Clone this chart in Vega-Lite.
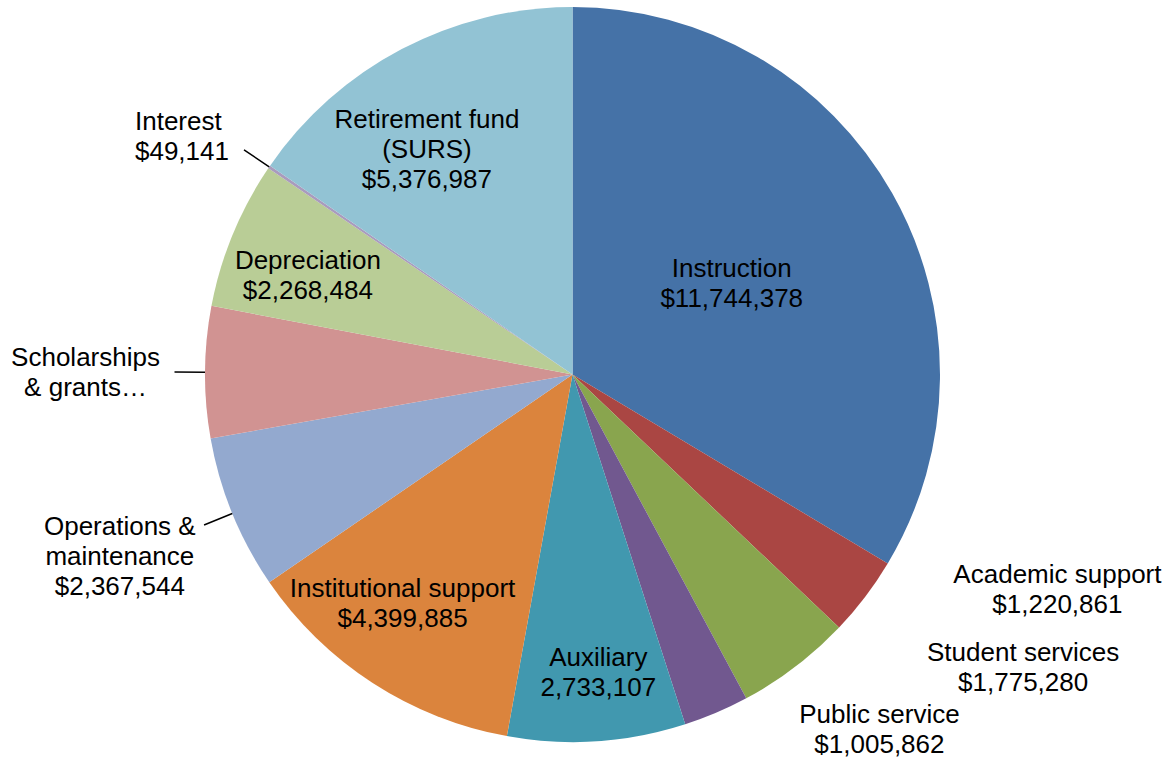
{
  "$schema": "https://vega.github.io/schema/vega-lite/v6.json",
  "width": 1145,
  "height": 749,
  "autosize": {"type": "none"},
  "padding": {"left": 0, "top": 0, "right": 26, "bottom": 10},
  "background": "white",
  "view": {"stroke": null},
  "data": {
    "values": [
      {"order": 1, "category": "Instruction", "value": 11744378, "label": "Instruction\n$11,744,378"},
      {"order": 2, "category": "Academic support", "value": 1220861, "label": "Academic support\n$1,220,861"},
      {"order": 3, "category": "Student services", "value": 1775280, "label": "Student services\n$1,775,280"},
      {"order": 4, "category": "Public service", "value": 1005862, "label": "Public service\n$1,005,862"},
      {"order": 5, "category": "Auxiliary", "value": 2733107, "label": "Auxiliary\n2,733,107"},
      {"order": 6, "category": "Institutional support", "value": 4399885, "label": "Institutional support\n$4,399,885"},
      {"order": 7, "category": "Operations & maintenance", "value": 2367544, "label": "Operations &\nmaintenance\n$2,367,544"},
      {"order": 8, "category": "Scholarships & grants", "value": 2020000, "label": "Scholarships\n& grants…"},
      {"order": 9, "category": "Depreciation", "value": 2268484, "label": "Depreciation\n$2,268,484"},
      {"order": 10, "category": "Interest", "value": 49141, "label": "Interest\n$49,141"},
      {"order": 11, "category": "Retirement fund (SURS)", "value": 5376987, "label": "Retirement fund\n(SURS)\n$5,376,987"}
    ]
  },
  "transform": [
    {"joinaggregate": [{"op": "sum", "field": "value", "as": "total"}]},
    {"window": [{"op": "sum", "field": "value", "as": "cum"}], "sort": [{"field": "order", "order": "ascending"}], "frame": [null, 0]},
    {"calculate": "(datum.cum - datum.value) / datum.total", "as": "start"},
    {"calculate": "datum.cum / datum.total", "as": "end"},
    {"calculate": "(datum.cum - datum.value / 2) / datum.total", "as": "mid"}
  ],
  "layer": [
    {
      "mark": {"type": "arc", "outerRadius": 367.5, "innerRadius": 0},
      "encoding": {
        "theta": {"field": "start", "type": "quantitative", "stack": false, "scale": {"domain": [0, 1], "range": [0, 6.283185307179586]}},
        "theta2": {"field": "end"},
        "color": {
          "field": "category",
          "type": "nominal",
          "legend": null,
          "scale": {
            "domain": ["Instruction", "Academic support", "Student services", "Public service", "Auxiliary", "Institutional support", "Operations & maintenance", "Scholarships & grants", "Depreciation", "Interest", "Retirement fund (SURS)"],
            "range": ["#4572A7", "#AA4643", "#89A54E", "#71588F", "#4198AF", "#DB843D", "#93A9CF", "#D19392", "#B9CD96", "#A99BBD", "#92C3D4"]
          }
        }
      }
    },
    {
      "transform": [{"filter": "indexof(['Scholarships & grants', 'Interest', 'Operations & maintenance'], datum.category) >= 0"}],
      "mark": {"type": "arc", "innerRadius": 367.5, "outerRadius": 398, "filled": false, "stroke": "black", "strokeWidth": 1.5},
      "encoding": {
        "theta": {"field": "mid", "type": "quantitative", "stack": false, "scale": {"domain": [0, 1], "range": [0, 6.283185307179586]}},
        "theta2": {"field": "mid"}
      }
    },
    {
      "transform": [{"filter": "datum.category === 'Instruction'"}],
      "mark": {"type": "text", "radius": 183, "dy": -15, "align": "center", "baseline": "middle", "font": "Liberation Sans", "fontSize": 26, "lineHeight": 30, "lineBreak": "\n", "color": "black"},
      "encoding": {"theta": {"field": "mid", "type": "quantitative", "stack": false, "scale": {"domain": [0, 1], "range": [0, 6.283185307179586]}}, "text": {"field": "label"}}
    },
    {
      "transform": [{"filter": "datum.category === 'Academic support'"}],
      "mark": {"type": "text", "radius": 516, "dx": 74, "dy": -112, "align": "center", "baseline": "middle", "font": "Liberation Sans", "fontSize": 26, "lineHeight": 30, "lineBreak": "\n", "color": "black"},
      "encoding": {"theta": {"field": "mid", "type": "quantitative", "stack": false, "scale": {"domain": [0, 1], "range": [0, 6.283185307179586]}}, "text": {"field": "label"}}
    },
    {
      "transform": [{"filter": "datum.category === 'Student services'"}],
      "mark": {"type": "text", "radius": 507, "dx": 143, "dy": -125, "align": "center", "baseline": "middle", "font": "Liberation Sans", "fontSize": 26, "lineHeight": 30, "lineBreak": "\n", "color": "black"},
      "encoding": {"theta": {"field": "mid", "type": "quantitative", "stack": false, "scale": {"domain": [0, 1], "range": [0, 6.283185307179586]}}, "text": {"field": "label"}}
    },
    {
      "transform": [{"filter": "datum.category === 'Public service'"}],
      "mark": {"type": "text", "radius": 447, "dx": 132, "dy": -71, "align": "center", "baseline": "middle", "font": "Liberation Sans", "fontSize": 26, "lineHeight": 30, "lineBreak": "\n", "color": "black"},
      "encoding": {"theta": {"field": "mid", "type": "quantitative", "stack": false, "scale": {"domain": [0, 1], "range": [0, 6.283185307179586]}}, "text": {"field": "label"}}
    },
    {
      "transform": [{"filter": "datum.category === 'Auxiliary'"}],
      "mark": {"type": "text", "radius": 299, "dx": 6, "dy": -15, "align": "center", "baseline": "middle", "font": "Liberation Sans", "fontSize": 26, "lineHeight": 30, "lineBreak": "\n", "color": "black"},
      "encoding": {"theta": {"field": "mid", "type": "quantitative", "stack": false, "scale": {"domain": [0, 1], "range": [0, 6.283185307179586]}}, "text": {"field": "label"}}
    },
    {
      "transform": [{"filter": "datum.category === 'Institutional support'"}],
      "mark": {"type": "text", "radius": 285, "dx": -15, "dy": -25, "align": "center", "baseline": "middle", "font": "Liberation Sans", "fontSize": 26, "lineHeight": 30, "lineBreak": "\n", "color": "black"},
      "encoding": {"theta": {"field": "mid", "type": "quantitative", "stack": false, "scale": {"domain": [0, 1], "range": [0, 6.283185307179586]}}, "text": {"field": "label"}}
    },
    {
      "transform": [{"filter": "datum.category === 'Operations & maintenance'"}],
      "mark": {"type": "text", "radius": 489, "dy": -32, "align": "center", "baseline": "middle", "font": "Liberation Sans", "fontSize": 26, "lineHeight": 30, "lineBreak": "\n", "color": "black"},
      "encoding": {"theta": {"field": "mid", "type": "quantitative", "stack": false, "scale": {"domain": [0, 1], "range": [0, 6.283185307179586]}}, "text": {"field": "label"}}
    },
    {
      "transform": [{"filter": "datum.category === 'Scholarships & grants'"}],
      "mark": {"type": "text", "radius": 487, "dy": -13, "align": "center", "baseline": "middle", "font": "Liberation Sans", "fontSize": 26, "lineHeight": 30, "lineBreak": "\n", "color": "black"},
      "encoding": {"theta": {"field": "mid", "type": "quantitative", "stack": false, "scale": {"domain": [0, 1], "range": [0, 6.283185307179586]}}, "text": {"field": "label"}}
    },
    {
      "transform": [{"filter": "datum.category === 'Depreciation'"}],
      "mark": {"type": "text", "radius": 282, "dx": -4, "dy": -6, "align": "center", "baseline": "middle", "font": "Liberation Sans", "fontSize": 26, "lineHeight": 30, "lineBreak": "\n", "color": "black"},
      "encoding": {"theta": {"field": "mid", "type": "quantitative", "stack": false, "scale": {"domain": [0, 1], "range": [0, 6.283185307179586]}}, "text": {"field": "label"}}
    },
    {
      "transform": [{"filter": "datum.category === 'Interest'"}],
      "mark": {"type": "text", "radius": 495, "dx": -29, "dy": 27, "align": "left", "baseline": "middle", "font": "Liberation Sans", "fontSize": 26, "lineHeight": 30, "lineBreak": "\n", "color": "black"},
      "encoding": {"theta": {"field": "mid", "type": "quantitative", "stack": false, "scale": {"domain": [0, 1], "range": [0, 6.283185307179586]}}, "text": {"field": "label"}}
    },
    {
      "transform": [{"filter": "datum.category === 'Retirement fund (SURS)'"}],
      "mark": {"type": "text", "radius": 266, "dx": -22, "dy": -19, "align": "center", "baseline": "middle", "font": "Liberation Sans", "fontSize": 26, "lineHeight": 30, "lineBreak": "\n", "color": "black"},
      "encoding": {"theta": {"field": "mid", "type": "quantitative", "stack": false, "scale": {"domain": [0, 1], "range": [0, 6.283185307179586]}}, "text": {"field": "label"}}
    }
  ]
}
